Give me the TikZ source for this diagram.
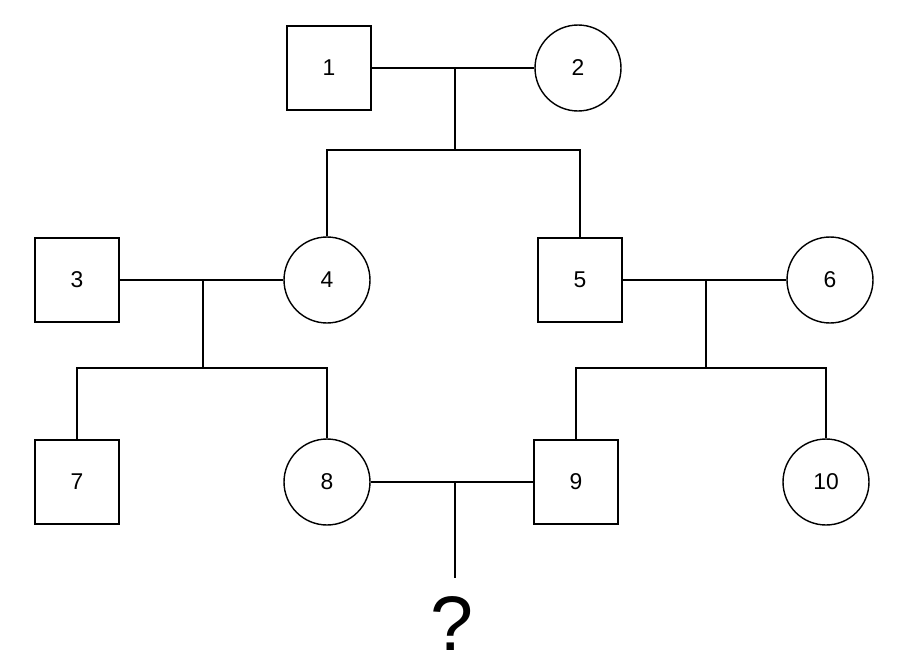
\documentclass[tikz,border=0pt]{standalone}
\usepackage{fontspec}
\setmainfont{Liberation Sans}
\usetikzlibrary{positioning}
\begin{document}
\begin{tikzpicture}[x=0.02cm,y=-0.02cm]
\tikzstyle{male node}=[rectangle,draw,line width=0.8pt,minimum size=1.68cm,inner sep=0,font=\fontsize{13}{15}\selectfont]
\tikzstyle{female node}=[circle,draw,line width=0.8pt,minimum size=1.72cm,inner sep=0,font=\fontsize{13}{15}\selectfont]
\tikzset{
  link/.style = {draw, line width=0.8pt}
}
\useasboundingbox (0,0) rectangle (899,666);

    \node[male node]   (p1)  at (329,68)  {1};
    \node[female node] (p2)  at (578,68)  {2};
    \node[male node]   (p3)  at (77,280)  {3};
    \node[female node] (p4)  at (327,280) {4};
    \node[male node]   (p5)  at (580,280) {5};
    \node[female node] (p6)  at (830,280) {6};
    \node[male node]   (p7)  at (77,482)  {7};
    \node[female node] (p8)  at (327,482) {8};
    \node[male node]   (p9)  at (576,482) {9};
    \node[female node] (p10) at (826,482) {10};
    \node[font=\fontsize{44}{48}\selectfont] (q) at (452,624) {?};
    %%%%%%%%%%%%%%%%%%%%%%%%%%%%%%%%%%%
    \coordinate (m12) at (455,68);
    \coordinate (d12) at (455,150);
    \coordinate (m34) at (203,280);
    \coordinate (d34) at (203,368);
    \coordinate (m56) at (706,280);
    \coordinate (d56) at (706,368);
    \coordinate (m89) at (455,482);
    \coordinate (d89) at (455,578);
    %%%%%%%%%%%%%%%%%%%%%%%%%%%%%%%%%%%
    \path[link]
        (p1) -- (p2)
        (m12) -- (d12)
        (p4.north) |- (d12) -| (p5.north)
        (p3) -- (p4)
        (m34) -- (d34)
        (p7.north) |- (d34) -| (p8.north)
        (p5) -- (p6)
        (m56) -- (d56)
        (p9.north) |- (d56) -| (p10.north)
        (p8) -- (p9)
        (m89) -- (d89)
;
\end{tikzpicture}
\end{document}
